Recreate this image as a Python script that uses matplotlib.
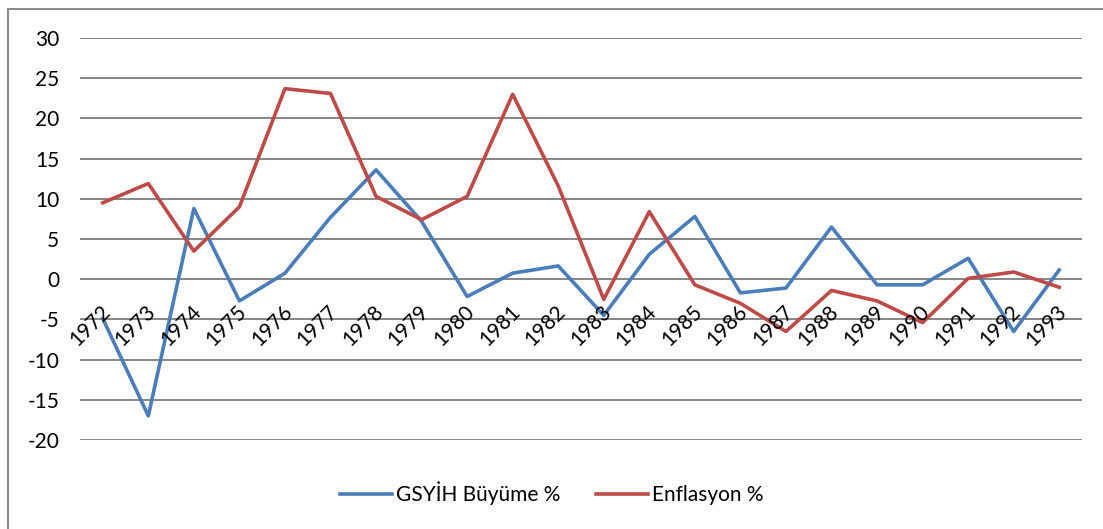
import matplotlib
matplotlib.use('Agg')
import matplotlib.pyplot as plt
import matplotlib.transforms as mtransforms
from matplotlib.patches import Rectangle

# Veriler
yillar = [str(y) for y in range(1972, 1994)]
buyume = [-4.9, -17.0, 8.8, -2.7, 0.75, 7.7, 13.6, 7.2, -2.15, 0.75, 1.65,
          -4.5, 3.1, 7.8, -1.7, -1.1, 6.5, -0.7, -0.7, 2.6, -6.5, 1.15]
enflasyon = [9.5, 11.9, 3.5, 9.0, 23.7, 23.1, 10.3, 7.4, 10.3, 23.0, 11.6,
             -2.5, 8.4, -0.7, -3.0, -6.5, -1.4, -2.7, -5.4, 0.1, 0.9, -1.0]

plt.rcParams['font.family'] = ['Lato', 'DejaVu Sans']
plt.rcParams['axes.unicode_minus'] = False
fs = 15

W, H = 1103, 529
fig = plt.figure(figsize=(W / 100, H / 100), dpi=100)

# dis cerceve
fig.patches.append(Rectangle((8 / W, -0.01), 1.2, 1 - 9 / H + 0.01,
                             transform=fig.transFigure, fill=False,
                             edgecolor='#8c8c8c', linewidth=1.5))

ax = fig.add_axes([80 / W, 1 - 440 / H, 1002 / W, 402 / H])
x = list(range(len(yillar)))
ax.plot(x, buyume, color='#4A7EBB', linewidth=2.6, label='GSYİH Büyüme %')
ax.plot(x, enflasyon, color='#BE4B48', linewidth=2.6, label='Enflasyon %')

ax.set_xlim(-0.5, len(yillar) - 0.5)
ax.set_ylim(-20, 30)
ax.set_yticks(range(-20, 31, 5))
ax.yaxis.grid(True, color='#868686', linewidth=1.4)
ax.set_axisbelow(True)
ax.tick_params(axis='y', length=0, pad=15, labelsize=fs)
ax.set_xticks([])
for s in ax.spines.values():
    s.set_visible(False)

# kategori etiketleri 0 ekseninde, 45 derece
off = mtransforms.offset_copy(ax.transData, fig=fig, x=-3, y=-22, units='dots')
for i, yil in enumerate(yillar):
    ax.text(i, 0, yil, rotation=45, ha='right', va='top',
            rotation_mode='anchor', fontsize=fs, transform=off)

fig.legend(loc='center', bbox_to_anchor=(0.5, 1 - 493 / H), ncol=2,
           frameon=False, fontsize=fs, handlelength=2.5,
           handletextpad=0.2, columnspacing=1.7)

fig.savefig('out.png', dpi=100)
